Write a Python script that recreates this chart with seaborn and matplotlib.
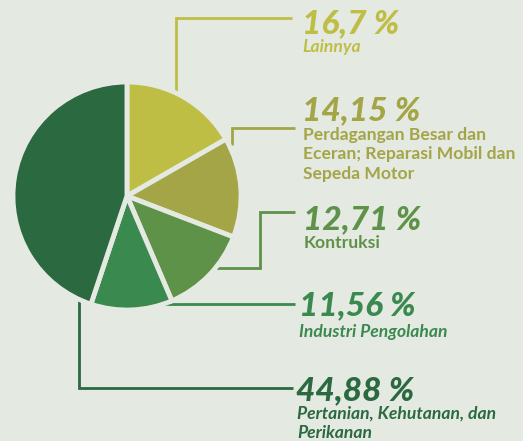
import numpy as np
import matplotlib as mpl
import matplotlib.pyplot as plt
import seaborn as sns

# data (persen per sektor)
label_lines = [
    ["Lainnya"],
    ["Perdagangan Besar dan", "Eceran; Reparasi Mobil dan", "Sepeda Motor"],
    ["Kontruksi"],
    ["Industri Pengolahan"],
    ["Pertanian, Kehutanan, dan", "Perikanan"],
]
shares = [16.7, 14.15, 12.71, 11.56, 44.88]
colors = ["#BEBE45", "#A3A547", "#5F9249", "#3A894E", "#2B6940"]
label_italic = [True, False, False, True, True]

BG = "#E4E9E2"
W, H = 523, 441

sns.set_theme(style="white")
mpl.rcParams["font.family"] = ["Lato", "DejaVu Sans"]

fig = plt.figure(figsize=(W / 100, H / 100), dpi=100)
fig.patch.set_facecolor(BG)
ax = fig.add_axes([0, 0, 1, 1])
ax.set_facecolor(BG)


def py(y):
    # pixel y (dari atas) -> data y
    return H - y


cx, cy, r = 127, py(196), 114
ax.pie(
    shares,
    colors=colors,
    startangle=90,
    counterclock=False,
    center=(cx, cy),
    radius=r,
    explode=[0.025, 0.05, 0.03, 0.025, 0.04],
    wedgeprops=dict(edgecolor=BG, linewidth=3.5, zorder=3),
    frame=True,
)

# garis penunjuk (koordinat piksel)
leaders = [
    [(176, 100), (176, 18), (292, 18)],
    [(232, 145), (232, 128), (295, 128)],
    [(210, 268), (260, 268), (260, 212), (295, 212)],
    [(150, 304), (295, 304)],
    [(79, 290), (79, 388), (293, 388)],
]
for pts, c in zip(leaders, colors):
    xs = [p[0] for p in pts]
    ys = [py(p[1]) for p in pts]
    ax.plot(xs, ys, color=c, lw=2, zorder=1, solid_capstyle="butt", solid_joinstyle="miter")

# teks
val_pos = [(302, 33), (302, 120), (303, 229), (299, 315), (296, 400)]
lab_pos = [(302, 52), (303, 140), (304, 248), (299, 337), (297, 419)]
for v, lines, c, it, (vx, vy), (lx, ly) in zip(shares, label_lines, colors, label_italic, val_pos, lab_pos):
    txt = f"{v:g}".replace(".", ",") + " %"
    ax.text(vx, py(vy), txt, color=c, fontsize=24, fontweight="black", fontstyle="italic",
            ha="left", va="baseline", zorder=5)
    for i, ln in enumerate(lines):
        ax.text(lx, py(ly + i * 19.5), ln, color=c, fontsize=12.6, fontweight="bold",
                fontstyle="italic" if it else "normal", ha="left", va="baseline", zorder=5)

ax.set_xlim(0, W)
ax.set_ylim(0, H)
ax.set_aspect("auto")
ax.set_xticks([])
ax.set_yticks([])
for s in ax.spines.values():
    s.set_visible(False)

fig.savefig("out.png", dpi=100, facecolor=BG)
